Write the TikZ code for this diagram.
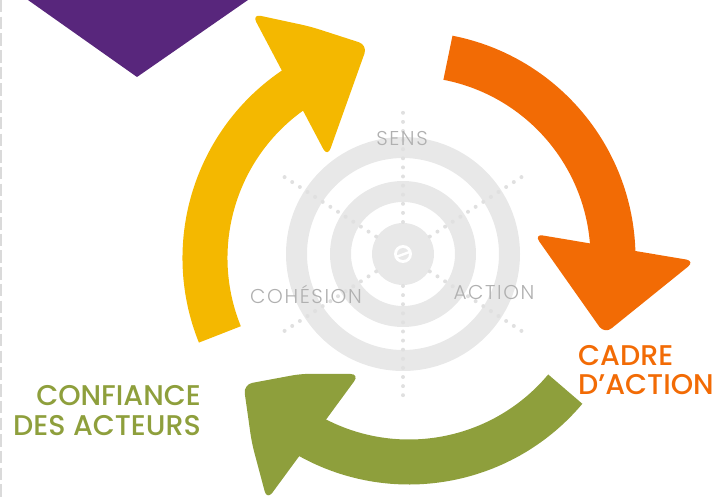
\documentclass[tikz,border=0pt]{standalone}
\usepackage{fontspec}
\setmainfont{Poppins}
\IfFontExistsTF{Poppins Medium}{\newfontfamily\medfont{Poppins Medium}}{\newfontfamily\medfont{Poppins}}
\IfFontExistsTF{Poppins Light}{\newfontfamily\lightfont{Poppins Light}[LetterSpace=8]}{\newfontfamily\lightfont{Poppins}[LetterSpace=8]}
\definecolor{cYellow}{RGB}{244,184,0}
\definecolor{cOrange}{RGB}{242,107,5}
\definecolor{cGreen}{RGB}{142,159,60}
\definecolor{cPurple}{RGB}{88,38,124}
\definecolor{cRing}{RGB}{232,232,232}
\definecolor{cDot}{RGB}{224,224,224}
\definecolor{cLabel}{RGB}{176,176,176}
\definecolor{cBorder}{RGB}{218,218,218}
\begin{document}
\begin{tikzpicture}[x=1pt,y=1pt,
  band/.style={line width=45pt},
  head/.style={rounded corners=9pt},
  ringlbl/.style={text=cLabel,font=\lightfont\fontsize{20}{20}\selectfont,inner sep=0pt,anchor=base},
  biglbl/.style={font=\medfont\fontsize{28.5}{28.5}\selectfont,inner sep=0pt}]
\useasboundingbox (0,0) rectangle (716,499);
\coordinate (R) at (403,245);
\coordinate (C) at (409,241);
% left dashed border
\coordinate (bt) at (1,499);
\coordinate (bb) at (1,0);
\draw[cBorder,line width=2pt,dash pattern=on 12.5pt off 4.2pt] (bt) -- (bb);
% purple triangle
\fill[cPurple] (13.8,509) -- (262.4,509) -- (137,422) -- cycle;
% target rings
\draw[cRing,line width=21pt] (R) circle (106.5);
\draw[cRing,line width=21pt] (R) circle (62.5);
\fill[cRing] (R) circle (31);
% dotted radial lines
\foreach \a in {90,33,-33,-90,213,147}{
  \foreach \i in {0,...,12}{
    \fill[cDot] (R) ++(\a:32+\i*9.1) circle (2);
  }
}
% centre emblem
\fill[white] (R) circle (9);
\fill[cRing] (R) circle (6);
\begin{scope}[shift={(R)},rotate=20]
  \fill[white] (-8,-1.6) rectangle (8,0.8);
\end{scope}
% ring labels
\node[ringlbl] (sens) at (402,353) {SENS};
\node[ringlbl] (action) at (494,199) {ACTION};
\node[ringlbl] (cohesion) at (306,195) {COHÉSION};
% yellow arrow
\draw[band,cYellow] (C) ++(202:204) arc[start angle=202,end angle=122,radius=204];
\fill[cYellow,head] (252,485) -- (310.5,472.4) -- (367.5,454) -- (327.5,342) -- cycle;
% orange arrow
\draw[band,cOrange] (C) ++(79:204) arc[start angle=79,end angle=0,radius=204];
\fill[cOrange,head] (534,265) -- (695,238) -- (604.5,165) -- cycle;
% green arrow
\draw[band,cGreen] (C) ++(-40:204) arc[start angle=-40,end angle=-122,radius=204];
\fill[cGreen,head] (359.5,125) -- (301,125.2) -- (243.5,114.5) -- (251.8,56) -- (267,-1) -- cycle;
% big labels
\node[biglbl,text=cGreen,anchor=base east] (conf1) at (201,94) {CONFIANCE};
\node[biglbl,text=cGreen,anchor=base east] (conf2) at (201,64) {DES ACTEURS};
\node[biglbl,text=cOrange,anchor=base west] (cadre1) at (578,134) {CADRE};
\node[biglbl,text=cOrange,anchor=base west] (cadre2) at (578,105) {D’ACTION};
\end{tikzpicture}
\end{document}
